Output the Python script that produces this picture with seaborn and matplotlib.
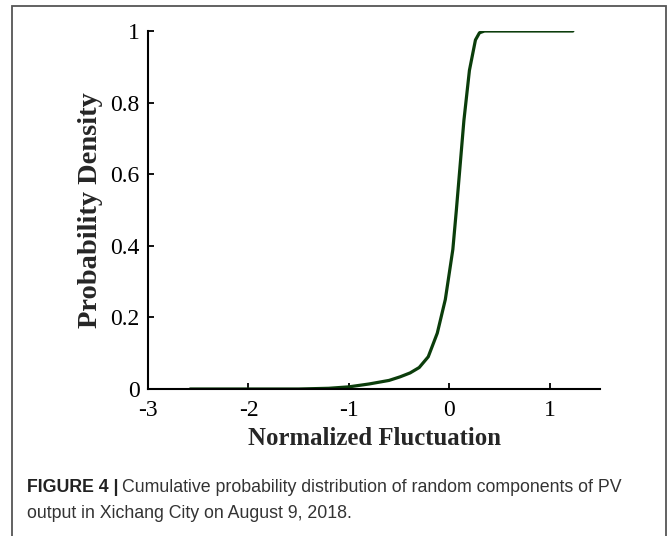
import numpy as np
import pandas as pd
import matplotlib
matplotlib.use("Agg")
import matplotlib.pyplot as plt
from matplotlib.patches import Rectangle
import seaborn as sns

# Data (cumulative probability curve)
fluctuation = [-2.58, -2.0, -1.5, -1.2, -1.0, -0.8, -0.6, -0.49, -0.39, -0.30,
               -0.21, -0.12, -0.04, 0.035, 0.07, 0.145, 0.20, 0.26, 0.30, 0.35,
               0.5, 1.0, 1.23]
probability = [0.0, 0.0, 0.0, 0.002, 0.006, 0.014, 0.024, 0.034, 0.045, 0.06,
               0.09, 0.156, 0.25, 0.39, 0.50, 0.75, 0.89, 0.975, 0.995, 1.0,
               1.0, 1.0, 1.0]
x_ticks = [-3, -2, -1, 0, 1]
y_ticks = [0, 0.2, 0.4, 0.6, 0.8, 1]
y_tick_labels = ["0", "0.2", "0.4", "0.6", "0.8", "1"]

df = pd.DataFrame({"x": fluctuation, "y": probability})

sns.set_style("ticks")
plt.rcParams["font.family"] = ["Liberation Serif", "DejaVu Serif"]

W, H = 672, 536
fig = plt.figure(figsize=(W / 100, H / 100), dpi=100)
ax = fig.add_axes([148 / W, 1 - 389 / H, (600 - 148) / W, (389 - 31) / H])

sns.lineplot(data=df, x="x", y="y", ax=ax, color="#0b3d0b", linewidth=2.3)

ax.set_xlim(-3, 1.5)
ax.set_ylim(0, 1)
ax.set_xticks(x_ticks)
ax.set_xticklabels([str(t) for t in x_ticks])
ax.set_yticks(y_ticks)
ax.set_yticklabels(y_tick_labels)
for s in ["top", "right"]:
    ax.spines[s].set_visible(False)
for s in ["left", "bottom"]:
    ax.spines[s].set_linewidth(1.5)
    ax.spines[s].set_color("black")
ax.tick_params(direction="in", length=4, width=1.3, labelsize=17,
               colors="black")
ax.tick_params(axis="x", pad=8)
ax.tick_params(axis="y", pad=6)
ax.set_xlabel("Normalized Fluctuation", fontsize=17.8, fontweight="bold",
              labelpad=4)
ax.set_ylabel("Probability Density", fontsize=20.5, fontweight="bold",
              labelpad=5)

# Caption
cap_font = ["Liberation Sans", "DejaVu Sans"]
t1 = fig.text(27 / W, 1 - 488 / H, "FIGURE 4 |", fontsize=12.8, fontweight="bold",
              family=cap_font, va="center", ha="left", color="#222222")
fig.canvas.draw()
bb = t1.get_window_extent()
fig.text((bb.x1 + 4) / W, 1 - 488 / H,
         "Cumulative probability distribution of random components of PV",
         fontsize=12.8, family=cap_font, va="center", ha="left", color="#333333")
fig.text(27 / W, 1 - 513 / H, "output in Xichang City on August 9, 2018.",
         fontsize=12.8, family=cap_font, va="center", ha="left", color="#333333")

# Outer frame
fig.patches.append(Rectangle((12 / W, -0.05), (666 - 12) / W, 1.05 - 6 / H,
                             transform=fig.transFigure, fill=False,
                             edgecolor="#555555", linewidth=1.3))

fig.savefig("out.png", dpi=100)
